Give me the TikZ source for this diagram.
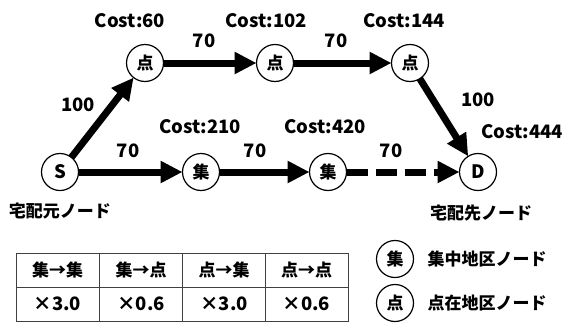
\documentclass[tikz,border=0pt]{standalone}
\usepackage{fontspec}
\setmainfont{Noto Sans CJK JP}
\usetikzlibrary{arrows.meta}
\tikzset{
  nd/.style={circle, draw, line width=1.2pt, minimum size=37pt, inner sep=0pt, outer sep=0pt, fill=white},
  jp/.style={font=\fontsize{17}{20}\selectfont\bfseries},
  lat/.style={font=\fontsize{18.5}{21}\selectfont\bfseries},
  arr/.style={line width=7pt, -{Triangle[length=22pt,width=21pt]}},
  cell/.style={draw=black!75, line width=1pt, minimum width=83pt, minimum height=34pt, inner sep=0pt, outer sep=0pt},
}
\begin{document}
\begin{tikzpicture}[x=1pt,y=-1pt]
\useasboundingbox (0,0) rectangle (563,322);
% nodes
\node[nd, lat] (S) at (60,172) {S};
\node[nd, jp] (p1) at (145,63) {点};
\node[nd, jp] (p2) at (275,63) {点};
\node[nd, jp] (p3) at (410,63) {点};
\node[nd, jp] (j1) at (201,172) {集};
\node[nd, jp] (j2) at (328,172) {集};
\node[nd, lat] (D) at (478,172) {D};
% edges
\draw[arr] (S) -- (p1);
\draw[arr] (p1) -- (p2);
\draw[arr] (p2) -- (p3);
\draw[arr] (p3) -- (D);
\draw[arr] (S) -- (j1);
\draw[arr] (j1) -- (j2);
\draw[arr, dash pattern=on 21pt off 8pt] (j2) -- (D);
% cost labels
\node[lat] (c1) at (130,21) {Cost:60};
\node[lat] (c2) at (266,21) {Cost:102};
\node[lat] (c3) at (404,21) {Cost:144};
\node[lat] (c4) at (200,127) {Cost:210};
\node[lat] (c5) at (325,127) {Cost:420};
\node[lat] (c6) at (522,132) {Cost:444};
% edge labels
\node[lat] (e1) at (204,41) {70};
\node[lat] (e2) at (336,41) {70};
\node[lat] (e3) at (78,105) {100};
\node[lat] (e4) at (478,100) {100};
\node[lat] (e5) at (128,151) {70};
\node[lat] (e6) at (255,151) {70};
\node[lat] (e7) at (391,151) {70};
% node captions
\node[jp] (src) at (60,211) {宅配元ノード};
\node[jp] (dst) at (481,213) {宅配先ノード};
% table
\node[cell, jp] (h1) at (57.5,270) {集→集};
\node[cell, jp] (h2) at (141,270) {集→点};
\node[cell, jp] (h3) at (224,270) {点→集};
\node[cell, jp] (h4) at (306.5,270) {点→点};
\node[cell, lat] (v1) at (57.5,304) {×3.0};
\node[cell, lat] (v2) at (141,304) {×0.6};
\node[cell, lat] (v3) at (224,304) {×3.0};
\node[cell, lat] (v4) at (306.5,304) {×0.6};
% legend
\node[nd, jp] (lj) at (395,259) {集};
\node[nd, jp] (lp) at (395,303) {点};
\node[jp, anchor=west] (ljt) at (424,259) {集中地区ノード};
\node[jp, anchor=west] (lpt) at (424,303) {点在地区ノード};
\end{tikzpicture}
\end{document}
